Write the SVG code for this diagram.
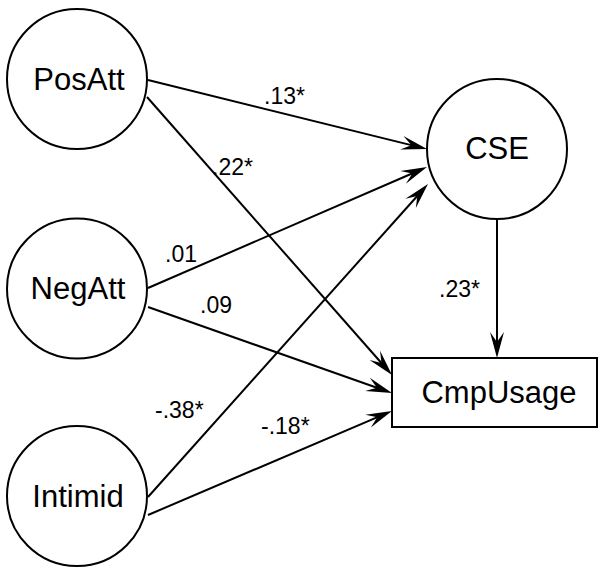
<svg xmlns="http://www.w3.org/2000/svg" width="598" height="567" viewBox="0 0 598 567">
<defs>
<style>
.node{fill:#fff;stroke:#000;stroke-width:2}
.nt{font-family:"Liberation Sans",Arial,sans-serif;font-size:31px;fill:#000;text-anchor:middle}
.edge{stroke:#000;stroke-width:2;fill:none;marker-end:url(#arr)}
.lbl{font-family:"Liberation Sans",Arial,sans-serif;font-size:23px;fill:#000}
</style>
<marker id="arr" markerUnits="userSpaceOnUse" orient="auto" refX="0" refY="0" markerWidth="30" markerHeight="16" viewBox="-16 -8 30 16" overflow="visible">
<path d="M10,0 L-16,-7 L-6,0 L-16,7 Z" fill="#000"/>
</marker>
</defs>
<rect width="598" height="567" fill="#fff"/>
<g id="connectors">
<line class="edge" x1="148" y1="80" x2="417.3" y2="146.6"/>
<line class="edge" x1="147" y1="97" x2="385.4" y2="367.5"/>
<line class="edge" x1="148" y1="288" x2="417.8" y2="171"/>
<line class="edge" x1="148" y1="307" x2="382.6" y2="389.7"/>
<line class="edge" x1="148" y1="497" x2="421.3" y2="191.5"/>
<line class="edge" x1="148" y1="515" x2="382.8" y2="414.9"/>
<line class="edge" x1="497" y1="219" x2="497" y2="348"/>
<text class="lbl" x="264" y="104">.13*</text>
<text class="lbl" x="212" y="175">.22*</text>
<text class="lbl" x="165" y="262">.01</text>
<text class="lbl" x="200" y="313">.09</text>
<text class="lbl" x="155" y="418">-.38*</text>
<text class="lbl" x="261" y="434">-.18*</text>
<text class="lbl" x="439" y="297">.23*</text>
</g>
<g id="PosAtt"><circle class="node" cx="77" cy="79" r="70"/><text class="nt" x="79" y="90">PosAtt</text></g>
<g id="NegAtt"><circle class="node" cx="77" cy="288.5" r="70"/><text class="nt" x="78" y="299">NegAtt</text></g>
<g id="Intimid"><circle class="node" cx="77" cy="496" r="70"/><text class="nt" x="78" y="507">Intimid</text></g>
<g id="CSE"><circle class="node" cx="497" cy="149" r="70"/><text class="nt" x="497" y="159">CSE</text></g>
<g id="CmpUsage"><rect class="node" x="392" y="358" width="205" height="69"/><text class="nt" x="499" y="403">CmpUsage</text></g>
</svg>
